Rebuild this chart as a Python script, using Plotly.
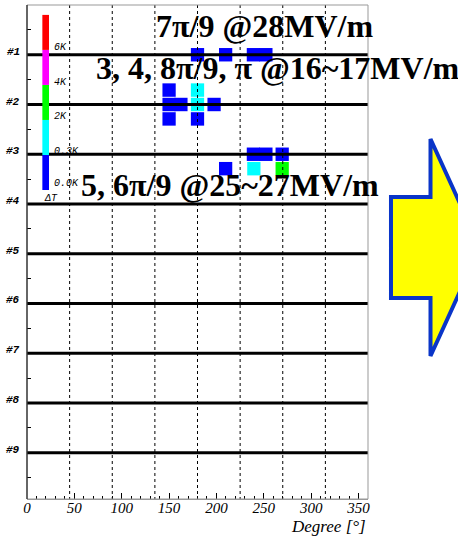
import plotly.graph_objects as go

# ---------------- data ----------------
rows = [1, 2, 3, 4, 5, 6, 7, 8, 9]
row_labels = ["#1", "#2", "#3", "#4", "#5", "#6", "#7", "#8", "#9"]
x_tick_vals = [0, 50, 100, 150, 200, 250, 300, 350]
x_tick_text = ["0", "50", "100", "150", "200", "250", "300", "350"]
grid_deg = [45, 90, 135, 180, 225, 270, 315]

# hot cells: cavity row, sub-position (-1 above, 0 on, +1 below), angle [deg], temperature rise [K]
cell_row = [1, 1, 1, 1,
            2, 2, 2, 2, 2, 2, 2, 2,
            3, 3, 3, 3, 3, 3]
cell_sub = [0, 0, 0, 0,
            -1, -1, 0, 0, 0, 0, 1, 1,
            0, 0, 0, 1, 1, 1]
cell_deg = [180, 209.7, 239, 252.2,
            150, 180, 150, 162.5, 180, 197.5, 150, 180,
            239, 252.2, 269.4, 209.7, 239.5, 269.4]
cell_dT = [0.1, 0.1, 0.1, 0.1,
           0.1, 1.0, 0.1, 0.1, 1.0, 0.1, 0.1, 0.1,
           0.1, 0.1, 0.1, 0.1, 1.0, 3.0]
cell_width_deg = 14.0

dT_edges = [0.0, 0.3, 2.0, 4.0, 6.0]
dT_labels = ["0.0K", "0.3K", "2K", "4K", "6K"]
dT_colors = ["#0000ff", "#00ffff", "#00ff00", "#ff00ff", "#ff0000"]

notes = ["7π/9 @28MV/m", "3, 4, 8π/9, π @16~17MV/m", "5, 6π/9 @25~27MV/m"]

# ---------------- layout constants ----------------
W, H = 458, 539
ML, MR, MT, MB = 27, 90, 5, 40
PW, PH = W - ML - MR, H - MT - MB
Y_MAX = 9.93
SUB_PITCH, HALF_H = 0.29, 0.135


def color_for(dT):
    c = dT_colors[0]
    for e, col in zip(dT_edges, dT_colors):
        if dT >= e:
            c = col
    return c


def px_to_paper(px, py):
    return (px - ML) / PW, (H - MB - py) / PH


fig = go.Figure()
fig.add_trace(go.Scatter(x=[0, 360], y=[0, Y_MAX], mode="markers",
                         marker=dict(opacity=0), hoverinfo="skip", showlegend=False))

shapes = []
# cells
for r, s, d, t in zip(cell_row, cell_sub, cell_deg, cell_dT):
    yc = r + s * SUB_PITCH
    shapes.append(dict(type="rect", xref="x", yref="y",
                       x0=d - cell_width_deg / 2, x1=d + cell_width_deg / 2,
                       y0=yc - HALF_H, y1=yc + HALF_H,
                       fillcolor=color_for(t), line=dict(width=0),
                       layer="above"))
# dotted grid
for g in grid_deg:
    shapes.append(dict(type="line", xref="x", yref="y", x0=g, x1=g, y0=0, y1=Y_MAX,
                       line=dict(color="black", width=1, dash="dot"), layer="above"))
# thick row lines
for r in rows:
    shapes.append(dict(type="line", xref="x", yref="y", x0=0, x1=360, y0=r, y1=r,
                       line=dict(color="black", width=3), layer="above"))
# colour scale bar
cb_x0, cb_x1 = 16.2, 23.2
cb_bottom, cb_step = 3.719, 0.704
for i, col in enumerate(dT_colors):
    shapes.append(dict(type="rect", xref="x", yref="y", x0=cb_x0, x1=cb_x1,
                       y0=cb_bottom - i * cb_step, y1=cb_bottom - (i + 1) * cb_step,
                       fillcolor=col, line=dict(width=0), layer="above"))
# frame
shapes.append(dict(type="rect", xref="paper", yref="paper", x0=0, x1=1, y0=0, y1=1,
                   line=dict(color="#999999", width=1), layer="above"))
shapes.append(dict(type="line", xref="paper", yref="paper", x0=0, x1=0, y0=0, y1=1,
                   line=dict(color="black", width=1), layer="above"))
# big arrow
arrow_px = [(391, 197), (430.5, 197), (430.5, 139), (480, 247.5),
            (430.5, 356), (430.5, 298), (391, 298)]
pts = [px_to_paper(x, y) for x, y in arrow_px]
path = "M " + " L ".join(f"{x:.4f},{y:.4f}" for x, y in pts) + " Z"
shapes.append(dict(type="path", xref="paper", yref="paper", path=path,
                   fillcolor="#ffff00", line=dict(color="#0a35c8", width=4), layer="above"))

annotations = []
# row labels
for r, lab in zip(rows, row_labels):
    annotations.append(dict(xref="paper", yref="y", x=0, y=r, text=lab, showarrow=False,
                            xanchor="right", yanchor="middle", xshift=-5, yshift=3,
                            font=dict(family="Liberation Mono", size=11, color="black",
                                      weight="bold", style="italic")))
# colour bar labels
cb_label_y = [3.59, 2.95, 2.245, 1.554, 0.858]
for lab, yy in zip(dT_labels, cb_label_y):
    annotations.append(dict(xref="x", yref="y", x=26.0, y=yy, text=lab, showarrow=False,
                            xanchor="left", yanchor="middle",
                            font=dict(family="Liberation Mono", size=10, color="black",
                                      style="italic")))
annotations.append(dict(xref="x", yref="y", x=16.0, y=3.88, text="ΔT", showarrow=False,
                        xanchor="left", yanchor="middle",
                        font=dict(family="Liberation Mono", size=10, color="black",
                                  style="italic")))
# big notes
note_pos = [(134.0, 0.42), (70.5, 1.27), (55.0, 3.61)]
for txt, (xx, yy) in zip(notes, note_pos):
    annotations.append(dict(xref="x", yref="y", x=xx, y=yy, text=txt, showarrow=False,
                            xanchor="left", yanchor="middle",
                            font=dict(family="Liberation Serif", size=32, color="black",
                                      weight="bold")))
# x title
annotations.append(dict(xref="paper", yref="paper", x=1, y=0, text="Degree [°]",
                        showarrow=False, xanchor="right", yanchor="top", yshift=-16,
                        font=dict(family="Liberation Serif", size=17, color="black",
                                  style="italic")))

fig.update_layout(
    width=W, height=H, margin=dict(l=ML, r=MR, t=MT, b=MB),
    paper_bgcolor="white", plot_bgcolor="white", showlegend=False,
    shapes=shapes, annotations=annotations,
    xaxis=dict(range=[0, 360], showgrid=False, zeroline=False,
               tickmode="array", tickvals=x_tick_vals, ticktext=x_tick_text,
               ticks="inside", ticklen=6, tickcolor="black", tickwidth=1,
               ticklabelstandoff=-5,
               minor=dict(dtick=10, ticks="inside", ticklen=3, tickcolor="black", showgrid=False),
               showline=True, linecolor="#999999", linewidth=1,
               tickfont=dict(family="Liberation Serif", size=15, color="black", style="italic")),
    yaxis=dict(range=[Y_MAX, 0], showgrid=False, zeroline=False,
               tickmode="array", tickvals=[r - 0.5 for r in rows] + [9.5],
               ticks="inside", ticklen=4, tickcolor="black", showticklabels=False,
               showline=False),
)

fig.write_html("out.html")
